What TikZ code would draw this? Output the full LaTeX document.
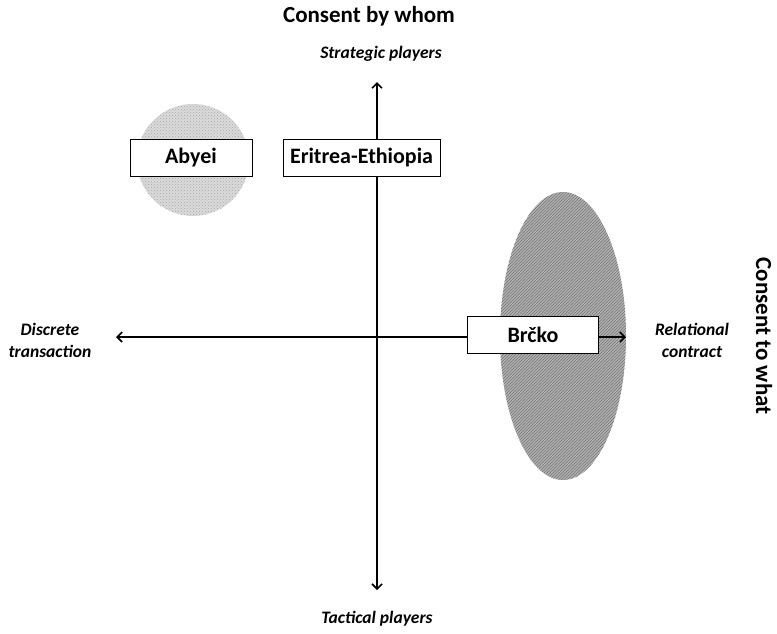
\documentclass[tikz,border=0pt]{standalone}
\usepackage{fontspec}
\setmainfont{Carlito}
\usetikzlibrary{calc}
\usetikzlibrary{arrows.meta}
\usetikzlibrary{patterns}

\tikzset{
  axis/.style={black, line width=1.6pt, {Straight Barb[length=5pt,width=10pt]}-{Straight Barb[length=5pt,width=10pt]}},
  casebox/.style={draw, line width=0.9pt, fill=white, minimum height=37pt, font=\bfseries\fontsize{22}{26}\selectfont},
  pole/.style={align=center, font=\bfseries\itshape\fontsize{17.5}{22}\selectfont},
  heading/.style={font=\bfseries\fontsize{23}{27}\selectfont}
}

\begin{document}
\begin{tikzpicture}[x=1pt, y=-1pt]
\useasboundingbox (0,0) rectangle (777,633);

% zones
\fill[black!14] (193,160) circle [radius=56];
\fill[pattern=crosshatch dots, pattern color=black!35] (193,160) circle [radius=56];
\fill[black!30] (563,336) ellipse [x radius=63, y radius=144];
\fill[pattern=north east lines, pattern color=black!55] (563,336) ellipse [x radius=63, y radius=144];

% axes
\coordinate (top) at (377,82);
\coordinate (bottom) at (377,590);
\coordinate (left) at (116,337);
\coordinate (right) at (626,337);
\draw[axis] (left) -- (right);
\draw[axis] (bottom) -- (top);

% cases
\node[casebox, minimum width=122pt] (abyei) at (191,158) {Abyei};
\node[casebox, minimum width=157pt] (eritrea) at (361.5,158) {Eritrea-Ethiopia};
\node[casebox, minimum width=131pt] (brcko) at (533,335) {Brčko};

% labels
\node[heading] (whom) at (369,16) {Consent by whom};
\node[heading, rotate=-90] (what) at (764,336) {Consent to what};
\node[pole] (strategic) at (381,54) {Strategic players};
\node[pole] (tactical) at (377,619) {Tactical players};
\node[pole] (discrete) at (50,340) {Discrete\\transaction};
\node[pole] (relational) at (692,340) {Relational\\contract};

\end{tikzpicture}
\end{document}
